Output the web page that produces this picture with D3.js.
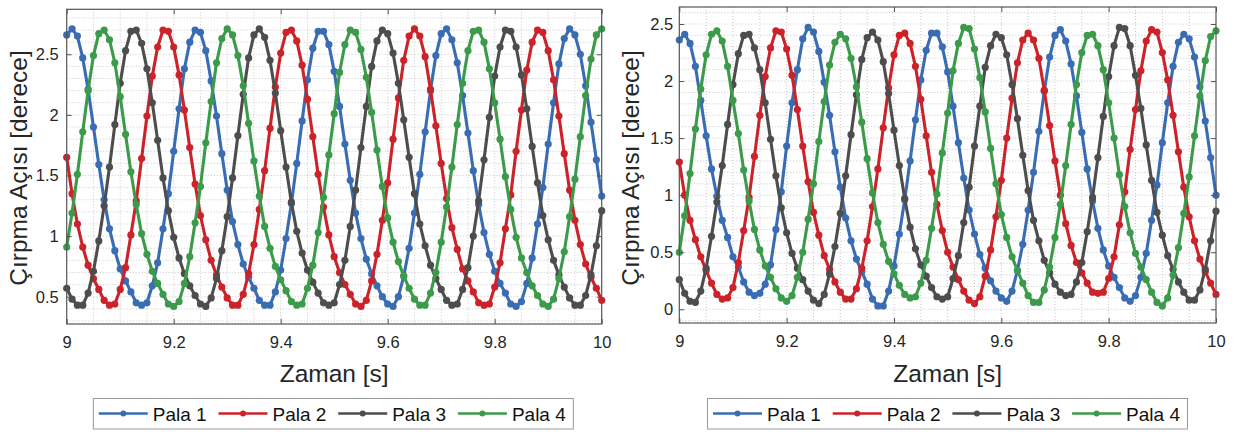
<!DOCTYPE html>
<html>
<head>
<meta charset="utf-8">
<script src="https://cdn.jsdelivr.net/npm/d3@7/dist/d3.min.js"></script>
<style>
body{margin:0;background:#ffffff;}
svg{display:block;font-family:"Liberation Sans",Arial,sans-serif;}
</style>
</head>
<body>
<div id="Main_Part"></div>
<script>
// zaman ekseni: 9.00 ... 10.00 s, 0.01 s adim
var zaman = d3.range(0,101).map(function(i){ return 9 + i/100; });

var seriesNames  = ["Pala 1","Pala 2","Pala 3","Pala 4"];
var seriesColors = ["#3a6cb4","#cc2229","#4d4d4d","#3b9b4a"];
var xTicks    = [9,9.2,9.4,9.6,9.8,10];
var solYTicks = [0.5,1,1.5,2,2.5];
var sagYTicks = [0,0.5,1,1.5,2,2.5];

// sol grafik
var solPala1 = [2.66,2.71,2.65,2.47,2.21,1.90,1.59,1.30,1.06,0.88,
0.73,0.63,0.54,0.45,0.43,0.45,0.59,0.78,1.06,1.35,
1.70,2.05,2.38,2.60,2.70,2.68,2.53,2.28,1.99,1.68,
1.38,1.12,0.93,0.77,0.66,0.57,0.47,0.43,0.43,0.54,
0.72,0.98,1.27,1.60,1.95,2.29,2.55,2.69,2.69,2.58,
2.36,2.07,1.76,1.46,1.19,0.98,0.81,0.69,0.59,0.50,
0.44,0.42,0.50,0.67,0.90,1.19,1.51,1.86,2.20,2.49,
2.67,2.71,2.62,2.43,2.16,1.85,1.54,1.26,1.03,0.85,
0.71,0.61,0.53,0.44,0.42,0.46,0.61,0.82,1.10,1.40,
1.76,2.10,2.42,2.63,2.71,2.66,2.50,2.24,1.94,1.63,
1.33];
var solPala2 = [1.65,1.35,1.10,0.91,0.76,0.65,0.56,0.47,0.43,0.44,
0.56,0.74,1.01,1.29,1.64,1.99,2.32,2.56,2.70,2.69,
2.56,2.33,2.04,1.73,1.43,1.17,0.97,0.80,0.68,0.58,
0.49,0.43,0.43,0.52,0.69,0.93,1.22,1.54,1.89,2.23,
2.51,2.68,2.70,2.61,2.41,2.13,1.82,1.51,1.24,1.01,
0.83,0.70,0.60,0.52,0.44,0.42,0.47,0.63,0.85,1.13,
1.44,1.80,2.14,2.45,2.65,2.71,2.65,2.48,2.21,1.91,
1.60,1.31,1.07,0.89,0.73,0.63,0.54,0.45,0.43,0.44,
0.58,0.78,1.06,1.34,1.70,2.04,2.37,2.60,2.70,2.68,
2.53,2.29,1.99,1.68,1.38,1.13,0.93,0.77,0.66,0.57,
0.47];
var solPala3 = [0.57,0.48,0.43,0.43,0.53,0.71,0.96,1.25,1.57,1.92,
2.26,2.53,2.69,2.70,2.59,2.38,2.10,1.79,1.48,1.21,
0.99,0.82,0.69,0.59,0.51,0.44,0.42,0.49,0.65,0.88,
1.16,1.48,1.83,2.17,2.47,2.66,2.71,2.64,2.45,2.18,
1.87,1.57,1.28,1.04,0.86,0.72,0.62,0.53,0.45,0.43,
0.45,0.60,0.80,1.08,1.38,1.73,2.07,2.40,2.61,2.70,
2.67,2.51,2.26,1.96,1.65,1.35,1.10,0.92,0.76,0.65,
0.56,0.47,0.43,0.44,0.56,0.74,1.00,1.29,1.63,1.98,
2.32,2.56,2.70,2.69,2.56,2.33,2.05,1.74,1.44,1.17,
0.97,0.80,0.68,0.58,0.49,0.43,0.43,0.51,0.68,0.92,
1.21];
var solPala4 = [0.91,1.19,1.51,1.86,2.20,2.49,2.67,2.70,2.62,2.43,
2.15,1.84,1.53,1.26,1.02,0.85,0.71,0.61,0.52,0.44,
0.42,0.46,0.61,0.83,1.11,1.41,1.77,2.11,2.43,2.63,
2.71,2.66,2.49,2.24,1.93,1.62,1.33,1.08,0.90,0.75,
0.64,0.55,0.46,0.43,0.44,0.57,0.76,1.03,1.32,1.67,
2.01,2.35,2.58,2.70,2.68,2.54,2.31,2.02,1.71,1.41,
1.15,0.95,0.79,0.67,0.57,0.48,0.43,0.43,0.53,0.70,
0.95,1.24,1.57,1.92,2.26,2.53,2.69,2.70,2.60,2.38,
2.10,1.80,1.49,1.22,0.99,0.82,0.70,0.59,0.51,0.44,
0.42,0.48,0.65,0.87,1.16,1.47,1.82,2.16,2.46,2.66,
2.71];

// sag grafik
var sagPala1 = [2.36,2.41,2.33,2.13,1.83,1.52,1.23,0.99,0.78,0.63,
0.46,0.37,0.24,0.15,0.12,0.14,0.22,0.39,0.70,1.03,
1.43,1.81,2.10,2.37,2.47,2.43,2.26,1.99,1.70,1.38,
1.07,0.80,0.60,0.44,0.33,0.22,0.09,0.03,0.03,0.16,
0.38,0.66,0.96,1.30,1.66,2.01,2.27,2.42,2.42,2.30,
2.08,1.78,1.46,1.15,0.87,0.66,0.48,0.36,0.25,0.16,
0.10,0.07,0.16,0.34,0.57,0.87,1.20,1.56,1.91,2.21,
2.40,2.45,2.35,2.15,1.87,1.55,1.23,0.95,0.71,0.52,
0.38,0.28,0.19,0.10,0.07,0.12,0.28,0.49,0.78,1.09,
1.46,1.81,2.13,2.34,2.41,2.37,2.21,1.95,1.65,1.33,
1.00];
var sagPala2 = [1.29,1.00,0.78,0.61,0.46,0.34,0.23,0.13,0.09,0.10,
0.19,0.41,0.69,0.98,1.34,1.70,2.04,2.29,2.44,2.43,
2.28,2.05,1.75,1.43,1.12,0.85,0.65,0.47,0.35,0.24,
0.15,0.09,0.09,0.18,0.36,0.60,0.90,1.23,1.59,1.94,
2.23,2.40,2.42,2.33,2.13,1.84,1.52,1.20,0.92,0.69,
0.50,0.37,0.26,0.16,0.08,0.05,0.11,0.29,0.52,0.81,
1.13,1.50,1.85,2.16,2.36,2.42,2.36,2.20,1.92,1.61,
1.30,1.00,0.75,0.56,0.41,0.32,0.23,0.15,0.14,0.15,
0.27,0.46,0.74,1.03,1.40,1.75,2.09,2.35,2.45,2.43,
2.25,2.01,1.70,1.38,1.07,0.81,0.60,0.44,0.33,0.23,
0.13];
var sagPala3 = [0.26,0.14,0.07,0.06,0.16,0.36,0.64,0.94,1.26,1.62,
1.97,2.24,2.40,2.41,2.29,2.10,1.81,1.49,1.17,0.89,
0.67,0.49,0.36,0.26,0.16,0.08,0.05,0.13,0.31,0.55,
0.84,1.17,1.53,1.88,2.19,2.38,2.43,2.36,2.17,1.89,
1.57,1.26,0.97,0.72,0.53,0.39,0.29,0.19,0.11,0.09,
0.11,0.27,0.47,0.76,1.07,1.43,1.78,2.12,2.31,2.41,
2.38,2.23,1.97,1.67,1.35,1.04,0.78,0.60,0.43,0.32,
0.22,0.15,0.12,0.13,0.24,0.41,0.68,0.98,1.33,1.69,
2.04,2.31,2.47,2.46,2.31,2.05,1.76,1.44,1.13,0.85,
0.65,0.47,0.35,0.24,0.15,0.08,0.08,0.17,0.35,0.60,
0.86];
var sagPala4 = [0.50,0.82,1.19,1.58,1.93,2.23,2.41,2.44,2.35,2.13,
1.83,1.54,1.22,0.95,0.70,0.52,0.38,0.28,0.18,0.10,
0.07,0.12,0.28,0.50,0.79,1.10,1.47,1.82,2.14,2.34,
2.41,2.37,2.20,1.95,1.64,1.32,1.02,0.76,0.57,0.42,
0.31,0.21,0.13,0.10,0.11,0.23,0.43,0.71,1.01,1.37,
1.72,2.09,2.33,2.47,2.46,2.28,2.03,1.73,1.41,1.10,
0.83,0.63,0.46,0.34,0.23,0.12,0.06,0.06,0.17,0.37,
0.63,0.92,1.26,1.62,1.97,2.25,2.40,2.41,2.31,2.10,
1.81,1.50,1.18,0.90,0.67,0.49,0.37,0.26,0.15,0.06,
0.03,0.10,0.30,0.54,0.84,1.16,1.52,1.87,2.18,2.39,
2.44];

var svg = d3.select('#Main_Part')
	.append("svg")
	.attr("width",1236)
	.attr("height",432);

var FontTick = 16.5;
var FontLabel = 24.5;
var FontLegend = 19;
var TextColor = "#262626";

function DrawPanel(Box,YDomain,YTicks,SeriesList,LabelGap,LegendX)
{
	var xScale = d3.scaleLinear().domain([9,10]).range([Box.left,Box.right]);
	var yScale = d3.scaleLinear().domain(YDomain).range([Box.bottom,Box.top]);
	var Panel = svg.append("g");

	// minor grid (dotted)
	var xMinor = d3.range(1,20).map(function(i){ return 9 + i*0.05; });
	var yMinor = d3.range(Math.ceil(YDomain[0]*10),Math.floor(YDomain[1]*10)+1)
		.map(function(i){ return i/10; });

	Panel.selectAll(".xgrid")
	.data(xMinor)
	.enter()
	.append("line")
	.attr("x1",function(d){ return xScale(d); })
	.attr("x2",function(d){ return xScale(d); })
	.attr("y1",Box.top)
	.attr("y2",Box.bottom)
	.style("stroke","#c8c8c8")
	.style("stroke-width",1)
	.style("stroke-dasharray","1,2");

	Panel.selectAll(".ygrid")
	.data(yMinor)
	.enter()
	.append("line")
	.attr("x1",Box.left)
	.attr("x2",Box.right)
	.attr("y1",function(d){ return yScale(d); })
	.attr("y2",function(d){ return yScale(d); })
	.style("stroke","#c8c8c8")
	.style("stroke-width",1)
	.style("stroke-dasharray","1,2");

	// series
	var Line = d3.line()
		.x(function(d){ return xScale(d[0]); })
		.y(function(d){ return yScale(d[1]); });

	SeriesList.forEach(function(Values,i){
		var Points = zaman.map(function(t,j){ return [t,Values[j]]; });
		Panel.append("path")
		.datum(Points)
		.attr("d",Line)
		.style("fill","none")
		.style("stroke",seriesColors[i])
		.style("stroke-width",3.1)
		.style("stroke-linejoin","round");

		Panel.append("g")
		.selectAll("circle")
		.data(Points)
		.enter()
		.append("circle")
		.attr("cx",function(d){ return xScale(d[0]); })
		.attr("cy",function(d){ return yScale(d[1]); })
		.attr("r",3.6)
		.style("fill",seriesColors[i]);
	});

	// axes (ticks inside, box on)
	var AxisBottom = Panel.append("g")
		.attr("transform","translate(0," + Box.bottom + ")")
		.call(d3.axisBottom(xScale).tickValues(xTicks).tickSize(-5).tickPadding(12)
			.tickFormat(function(d){ return String(+d.toFixed(1)); }));
	var AxisTop = Panel.append("g")
		.attr("transform","translate(0," + Box.top + ")")
		.call(d3.axisTop(xScale).tickValues(xTicks).tickSize(-5).tickFormat(""));
	var AxisLeft = Panel.append("g")
		.attr("transform","translate(" + Box.left + ",0)")
		.call(d3.axisLeft(yScale).tickValues(YTicks).tickSize(-5).tickPadding(LabelGap)
			.tickFormat(function(d){ return String(d); }));
	var AxisRight = Panel.append("g")
		.attr("transform","translate(" + Box.right + ",0)")
		.call(d3.axisRight(yScale).tickValues(YTicks).tickSize(-5).tickFormat(""));

	[AxisBottom,AxisTop,AxisLeft,AxisRight].forEach(function(A){
		A.select(".domain").remove();
		A.selectAll(".tick line").style("stroke","#555555");
		A.selectAll(".tick text")
		.style("font-size",FontTick + "px")
		.style("font-family","'Liberation Sans',Arial,sans-serif")
		.style("fill",TextColor);
	});

	Panel.append("rect")
	.attr("x",Box.left)
	.attr("y",Box.top)
	.attr("width",Box.right - Box.left)
	.attr("height",Box.bottom - Box.top)
	.style("fill","none")
	.style("stroke","#555555")
	.style("stroke-width",1.2);

	// axis titles
	Panel.append("text")
	.attr("x",(Box.left + Box.right)/2)
	.attr("y",382)
	.attr("text-anchor","middle")
	.text("Zaman [s]")
	.style("font-size",FontLabel + "px")
	.style("fill",TextColor);

	Panel.append("text")
	.attr("transform","translate(" + (Box.left - 40.2) + ",168) rotate(-90)")
	.attr("text-anchor","middle")
	.text("Çırpma Açısı [derece]")
	.style("font-size",FontLabel + "px")
	.style("fill",TextColor);

	// legend
	var Legend = Panel.append("g")
		.attr("transform","translate(" + LegendX + ",398.5)");

	Legend.append("rect")
	.attr("x",0)
	.attr("y",0)
	.attr("width",480)
	.attr("height",30.5)
	.style("fill","#ffffff")
	.style("stroke","#9a9a9a")
	.style("stroke-width",1);

	var Items = Legend.selectAll(".item")
		.data(seriesNames)
		.enter()
		.append("g")
		.attr("transform",function(d,i){ return "translate(" + (5.5 + i*119.7) + ",0)"; });

	Items.append("line")
	.attr("x1",0)
	.attr("x2",49)
	.attr("y1",15)
	.attr("y2",15)
	.style("stroke",function(d,i){ return seriesColors[i]; })
	.style("stroke-width",2.6);

	Items.append("circle")
	.attr("cx",24.5)
	.attr("cy",15)
	.attr("r",3)
	.style("fill",function(d,i){ return seriesColors[i]; });

	Items.append("text")
	.attr("x",54)
	.attr("y",22.5)
	.text(function(d){ return d; })
	.style("font-size",FontLegend + "px")
	.style("fill","#111111");

	return null;
}

DrawPanel({left:66.7,right:601.7,top:9.3,bottom:324},[0.275,2.871],solYTicks,
	[solPala1,solPala2,solPala3,solPala4],8,93.3);

DrawPanel({left:679.3,right:1216,top:7,bottom:323},[-0.12,2.649],sagYTicks,
	[sagPala1,sagPala2,sagPala3,sagPala4],6,707.5);
</script>
</body>
</html>
